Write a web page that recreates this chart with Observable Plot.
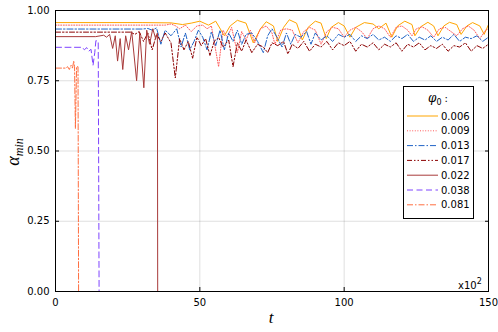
<!DOCTYPE html>
<html>
<head>
<meta charset="utf-8">
<script src="https://cdn.jsdelivr.net/npm/d3@7"></script>
<script src="https://cdn.jsdelivr.net/npm/@observablehq/plot@0.6"></script>
<style>
  html, body { margin: 0; padding: 0; background: #fff; }
  #chart { width: 498px; height: 332px; }
</style>
</head>
<body>
<div id="chart"></div>
<script>
// ---- data (t in units of 10^2, alpha_min) ----
const xTicks = [0, 50, 100, 150];
const yTicks = [0, 0.25, 0.5, 0.75, 1.0];
const phiLabels = ["0.006", "0.009", "0.013", "0.017", "0.022", "0.038", "0.081"];

const s006 = [[0,0.957],[30,0.957],[40,0.956],[44,0.95],[47,0.955],[50,0.962],[53,0.948],[55.5,0.962],[58.5,0.91],[60.5,0.945],[63,0.965],[66,0.955],[68.5,0.885],[71,0.935],[73,0.96],[75.5,0.945],[77,0.89],[79,0.94],[81,0.967],[83.5,0.955],[85.5,0.895],[87.5,0.94],[90,0.962],[92,0.955],[93.8,0.9],[95.5,0.94],[98,0.957],[100,0.945],[102,0.905],[104,0.94],[107,0.957],[110,0.952],[112,0.935],[114.5,0.955],[116.5,0.905],[118.5,0.945],[121,0.962],[123.5,0.95],[124.5,0.91],[126.5,0.942],[129,0.958],[131,0.945],[132.5,0.91],[134.5,0.945],[136.5,0.958],[139,0.95],[140.5,0.915],[142.5,0.945],[144.5,0.957],[147,0.945],[148.5,0.915],[150,0.95]];

const s009 = [[0,0.948],[38,0.948],[40,0.952],[41.5,0.946],[43,0.935],[45,0.948],[47,0.925],[49,0.945],[51,0.948],[52.5,0.935],[54,0.945],[56.5,0.80],[58,0.93],[59.5,0.905],[61,0.94],[63,0.85],[64.5,0.925],[66,0.895],[67.5,0.93],[69,0.885],[71,0.935],[73,0.945],[75,0.92],[76,0.88],[78,0.93],[80,0.935],[82,0.93],[84,0.885],[86,0.925],[88,0.94],[90,0.93],[92,0.88],[94,0.925],[96,0.94],[98,0.935],[100,0.905],[102,0.93],[104,0.94],[106,0.925],[108,0.9],[110,0.935],[112,0.945],[114,0.935],[116,0.905],[118,0.94],[120,0.945],[122,0.93],[123.5,0.91],[125,0.935],[127,0.942],[129,0.93],[131,0.905],[133,0.935],[135,0.94],[137,0.925],[139,0.91],[141,0.935],[143,0.945],[145,0.93],[147,0.9],[149,0.93],[150,0.935]];

const s013 = [[0,0.934],[30,0.934],[32,0.936],[33.5,0.93],[35,0.938],[36.5,0.88],[38,0.93],[40,0.91],[42,0.935],[43.5,0.87],[45,0.92],[46.5,0.86],[48,0.89],[49.5,0.93],[51,0.905],[52.5,0.86],[54,0.925],[55.5,0.875],[57,0.93],[58.5,0.86],[60,0.92],[61.5,0.89],[63,0.93],[64.5,0.88],[66,0.915],[68,0.92],[70,0.89],[72,0.85],[73.5,0.91],[75,0.935],[77,0.9],[78.5,0.87],[80,0.92],[81.5,0.88],[83,0.915],[85,0.905],[87,0.925],[88.5,0.88],[90,0.92],[92,0.895],[94,0.91],[96,0.89],[98,0.915],[100,0.905],[102,0.915],[104,0.89],[106,0.91],[108,0.9],[110,0.915],[112,0.895],[114,0.905],[116,0.89],[118,0.91],[120,0.9],[122,0.915],[124,0.89],[126,0.905],[128,0.895],[130,0.91],[132,0.89],[134,0.905],[136,0.895],[138,0.915],[140,0.89],[142,0.905],[144,0.9],[146,0.91],[148,0.89],[150,0.905]];

const s017 = [[0,0.923],[26,0.923],[27.5,0.915],[29,0.925],[30.5,0.89],[32,0.92],[33.5,0.86],[35,0.915],[36.5,0.89],[38,0.92],[40,0.885],[41.5,0.76],[43,0.9],[44.5,0.86],[46,0.89],[47.5,0.83],[49,0.905],[50.5,0.875],[52,0.9],[53.5,0.84],[55,0.89],[56.5,0.905],[58,0.87],[60,0.895],[61.5,0.8],[63,0.885],[64.5,0.855],[66,0.895],[68,0.85],[70,0.88],[72,0.87],[73.5,0.85],[75,0.885],[77,0.875],[79,0.89],[80.5,0.845],[82,0.88],[84,0.865],[86,0.89],[88,0.855],[90,0.88],[92,0.87],[94,0.89],[96,0.86],[98,0.885],[100,0.875],[102,0.89],[104,0.855],[106,0.88],[108,0.87],[110,0.885],[112,0.86],[114,0.88],[116,0.87],[118,0.885],[120,0.855],[122,0.88],[124,0.87],[126,0.885],[128,0.86],[130,0.875],[132,0.865],[134,0.88],[136,0.855],[138,0.875],[140,0.87],[142,0.885],[144,0.855],[146,0.875],[148,0.865],[150,0.88]];

const s022 = [[0,0.907],[13.9,0.907],[16.7,0.912],[17.7,0.905],[18.75,0.915],[19.8,0.865],[20.7,0.91],[21.5,0.82],[22.4,0.9],[23.3,0.79],[24.3,0.91],[25.3,0.86],[26.4,0.925],[28.1,0.75],[29.2,0.92],[30.6,0.725],[31.6,0.93],[32.6,0.88],[33.7,0.935],[34.7,0.9],[35.3,0.92],[35.4,0.0],[150,0.0]];

const s038 = [[0,0.869],[9.3,0.869],[10,0.86],[10.8,0.868],[11.5,0.855],[12.3,0.862],[13,0.805],[13.6,0.85],[14,0.893],[14.8,0.89],[15.1,0.0],[150,0.0]];

const s081 = [[0,0.795],[3.5,0.795],[4.2,0.80],[4.8,0.79],[5.4,0.805],[5.9,0.795],[6.3,0.82],[6.6,0.80],[6.9,0.58],[7.3,0.80],[7.8,0.80],[8.0,0.0],[150,0.0]];

const seriesData = [s006, s009, s013, s017, s022, s038, s081];

// ---- styles ----
const styles = [
  {stroke: "#FFA500", dash: null},
  {stroke: "#FF5A5A", dash: "1,1.6"},
  {stroke: "#1F63C6", dash: "6,2,1.5,2"},
  {stroke: "#8B0000", dash: "5,2,1.5,2,1.5,2"},
  {stroke: "#A83A3A", dash: null},
  {stroke: "#7E44FF", dash: "6,3.5"},
  {stroke: "#FF6E40", dash: "6,2,1.5,2"}
];

const lineMarks = seriesData.map((s, i) =>
  Plot.line(s, {x: d => d[0], y: d => d[1], stroke: styles[i].stroke,
    strokeWidth: 1, strokeDasharray: styles[i].dash})
);

const chart = Plot.plot({
  width: 498, height: 332,
  marginLeft: 55, marginRight: 10, marginTop: 10, marginBottom: 41,
  x: {domain: [0, 150]},
  y: {domain: [0, 1]},
  style: {fontFamily: "DejaVu Sans", fontSize: "10px", background: "#fff", color: "#000"},
  marks: [
    Plot.gridX(xTicks, {stroke: "#000", strokeOpacity: 0.13}),
    Plot.gridY(yTicks, {stroke: "#000", strokeOpacity: 0.13}),
    ...lineMarks,
    Plot.frame({stroke: "#000", strokeWidth: 1}),
    Plot.axisX(xTicks, {tickSize: 0, tickPadding: 7, label: null, tickFormat: d => String(d)}),
    Plot.axisX(xTicks, {tickSize: -4, tickFormat: () => "", label: null}),
    Plot.axisX(xTicks, {anchor: "top", tickSize: -4, tickFormat: () => "", label: null}),
    Plot.axisY(yTicks, {tickSize: 0, tickPadding: 6, label: null, tickFormat: d => d.toFixed(2)}),
    Plot.axisY(yTicks, {tickSize: -4, tickFormat: () => "", label: null}),
    Plot.axisY(yTicks, {anchor: "right", tickSize: -4, tickFormat: () => "", label: null})
  ]
});

document.getElementById("chart").appendChild(chart);

// ---- annotations and legend ----
const svg = d3.select(chart);

// x label
svg.append("text").attr("x", 271).attr("y", 323)
  .attr("text-anchor", "middle")
  .style("font-family", "Liberation Serif, DejaVu Serif, serif")
  .style("font-style", "italic").style("font-size", "17px").text("t");

// y label
const yl = svg.append("text")
  .attr("transform", "translate(19,152) rotate(-90)")
  .attr("text-anchor", "middle")
  .style("font-family", "Liberation Serif, DejaVu Serif, serif")
  .style("font-style", "italic");
yl.append("tspan").style("font-size", "18px").text("α");
yl.append("tspan").attr("dy", 4).style("font-size", "12px").text("min");

// x10^2
const mult = svg.append("text").attr("x", 458).attr("y", 289)
  .attr("text-anchor", "start")
  .style("font-family", "DejaVu Sans").style("font-size", "10px");
mult.append("tspan").text("x10");
mult.append("tspan").attr("dy", -5).style("font-size", "8px").text("2");

// legend
const lg = svg.append("g").attr("text-anchor", "start");
lg.append("rect").attr("x", 403.5).attr("y", 86.5).attr("width", 70).attr("height", 132)
  .attr("fill", "#fff").attr("stroke", "#000").attr("stroke-width", 1);
const lt = lg.append("text").attr("x", 428).attr("y", 102).attr("text-anchor", "start");
lt.append("tspan").style("font-family", "DejaVu Serif, serif").style("font-style", "italic")
  .style("font-size", "12px").text("φ");
lt.append("tspan").attr("dy", 3).style("font-family", "DejaVu Sans").style("font-size", "8px").text("0");
lt.append("tspan").attr("dy", -3).attr("dx", 3).style("font-family", "DejaVu Sans").style("font-size", "10px").text(":");

phiLabels.forEach((lab, i) => {
  const y = 116 + i * 14.8;
  lg.append("line").attr("x1", 407).attr("x2", 438).attr("y1", y).attr("y2", y)
    .attr("stroke", styles[i].stroke).attr("stroke-width", 1)
    .attr("stroke-dasharray", styles[i].dash);
  lg.append("text").attr("x", 441).attr("y", y + 3.5).attr("text-anchor", "start")
    .style("font-family", "DejaVu Sans").style("font-size", "10px").text(lab);
});
</script>
</body>
</html>
